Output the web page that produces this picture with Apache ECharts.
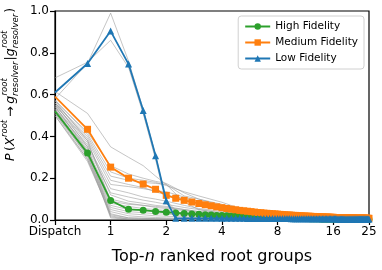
<!DOCTYPE html>
<html><head><meta charset="utf-8">
<script src="https://cdn.jsdelivr.net/npm/echarts@6/dist/echarts.min.js"></script>
<style>html,body{margin:0;padding:0;background:#fff}#c{width:382px;height:270px}</style>
</head><body><div id="c"></div>
<script>
const nValues = [0.5,0.75,1,1.25,1.5,1.75,2,2.25,2.5,2.75,3,3.25,3.5,3.75,4,4.25,4.5,4.75,5,5.25,5.5,5.75,6,6.25,6.5,6.75,7,7.25,7.5,7.75,8,8.25,8.5,8.75,9,9.25,9.5,9.75,10,10.25,10.5,10.75,11,11.25,11.5,11.75,12,12.25,12.5,12.75,13,13.25,13.5,13.75,14,14.25,14.5,14.75,15,15.25,15.5,15.75,16,16.25,16.5,16.75,17,17.25,17.5,17.75,18,18.25,18.5,18.75,19,19.25,19.5,19.75,20,20.25,20.5,20.75,21,21.25,21.5,21.75,22,22.25,22.5,22.75,23,23.25,23.5,23.75,24,24.25,24.5,24.75,25];
const highFidelity = [0.52,0.32,0.093,0.051,0.047,0.041,0.037,0.034,0.031,0.029,0.027,0.025,0.024,0.022,0.021,
 0.020,0.019,0.018,0.017,0.016,0.016,0.015,0.014,0.014,0.013,0.013,0.012,0.012,0.011,0.011,0.010,
 0.010,0.010,0.009,0.009,0.009,0.009,0.008,0.008,0.008,0.008,0.007,0.007,0.007,0.007,0.007,0.006,
 0.006,0.006,0.006,0.006,0.006,0.006,0.005,0.005,0.005,0.005,0.005,0.005,0.005,0.005,0.005,0.005,
 0.005,0.005,0.005,0.005,0.004,0.004,0.004,0.004,0.004,0.004,0.004,0.004,0.004,0.004,0.004,0.004,0.004,0.004,0.004,0.004,
 0.004,0.004,0.003,0.003,0.003,0.003,0.003,0.003,0.003,0.003,0.003,0.003,0.003,0.003,0.003,0.003];
const mediumFidelity = [0.59,0.434,0.253,0.20,0.172,0.147,0.118,0.104,0.094,0.086,0.079,0.073,0.068,0.063,0.059,
 0.055,0.052,0.049,0.046,0.044,0.042,0.040,0.038,0.036,0.035,0.033,0.032,0.031,0.030,0.029,0.028,
 0.027,0.026,0.025,0.024,0.024,0.023,0.022,0.022,0.021,0.020,0.020,0.019,0.019,0.018,0.018,0.018,
 0.017,0.017,0.016,0.016,0.016,0.015,0.015,0.015,0.014,0.014,0.014,0.014,0.013,0.013,0.013,0.013,
 0.012,0.012,0.012,0.012,0.012,0.011,0.011,0.011,0.011,0.011,0.011,0.010,0.010,0.010,0.010,0.010,0.010,0.010,0.010,0.010,
 0.009,0.009,0.009,0.009,0.009,0.009,0.009,0.009,0.009,0.009,0.009,0.009,0.008,0.008,0.008,0.008];
const lowFidelity = [0.61,0.749,0.904,0.746,0.524,0.307,0.092,0.008,0.008,0.008,0.008,0.008,0.008,0.008,0.008,
 0.008,0.008,0.008,0.008,0.008,0.007,0.007,0.007,0.007,0.007,0.007,0.007,0.007,0.007,0.007,0.007,
 0.007,0.007,0.007,0.007,0.007,0.006,0.006,0.006,0.006,0.006,0.006,0.006,0.006,0.006,0.006,0.006,
 0.006,0.006,0.006,0.006,0.006,0.006,0.006,0.006,0.006,0.006,0.006,0.006,0.006,0.006,0.006,0.006,
 0.006,0.006,0.006,0.005,0.005,0.005,0.005,0.005,0.005,0.005,0.005,0.005,0.005,0.005,0.005,0.005,0.005,0.005,0.005,0.005,
 0.005,0.005,0.005,0.005,0.005,0.005,0.005,0.005,0.005,0.005,0.005,0.005,0.005,0.005,0.005,0.005];

const grayN = [0.5,0.75,1,1.25,1.5,1.75,2,2.5,3,4,5,6,8,12,16,25];
const gray01 = [0.58,0.75,0.99,0.76,0.53,0.31,0.09,0.010,0.006,0.004,0.003,0.003,0.002,0.002,0.002,0.002];
const gray02 = [0.68,0.755,0.86,0.73,0.51,0.29,0.08,0.010,0.006,0.004,0.003,0.003,0.002,0.002,0.002,0.002];
const gray03 = [0.615,0.51,0.35,0.30,0.26,0.21,0.17,0.085,0.05,0.03,0.02,0.015,0.010,0.007,0.005,0.004];
const gray04 = [0.57,0.42,0.26,0.22,0.20,0.185,0.175,0.13,0.10,0.068,0.042,0.03,0.02,0.012,0.009,0.007];
const gray05 = [0.56,0.40,0.21,0.19,0.18,0.175,0.17,0.115,0.10,0.075,0.05,0.035,0.025,0.014,0.010,0.008];
const gray06 = [0.55,0.38,0.17,0.16,0.15,0.14,0.135,0.11,0.09,0.06,0.04,0.03,0.02,0.012,0.008,0.006];
const gray07 = [0.56,0.39,0.19,0.17,0.155,0.135,0.12,0.10,0.08,0.055,0.04,0.03,0.02,0.012,0.008,0.006];
const gray08 = [0.54,0.36,0.15,0.13,0.11,0.10,0.09,0.07,0.055,0.04,0.03,0.022,0.015,0.010,0.007,0.005];
const gray09 = [0.53,0.35,0.13,0.11,0.095,0.085,0.075,0.06,0.05,0.035,0.026,0.02,0.014,0.009,0.006,0.005];
const gray10 = [0.55,0.37,0.12,0.09,0.08,0.07,0.065,0.05,0.04,0.03,0.022,0.017,0.012,0.008,0.006,0.004];
const gray11 = [0.54,0.34,0.10,0.08,0.07,0.06,0.055,0.045,0.035,0.025,0.018,0.014,0.010,0.007,0.005,0.004];
const gray12 = [0.53,0.33,0.08,0.065,0.055,0.05,0.045,0.035,0.028,0.02,0.015,0.012,0.008,0.006,0.004,0.003];
const gray13 = [0.52,0.32,0.07,0.05,0.045,0.04,0.035,0.03,0.024,0.017,0.013,0.010,0.007,0.005,0.004,0.003];
const gray14 = [0.51,0.31,0.06,0.04,0.035,0.03,0.028,0.022,0.018,0.013,0.010,0.008,0.006,0.004,0.003,0.002];
const gray15 = [0.52,0.30,0.05,0.03,0.025,0.02,0.018,0.015,0.012,0.009,0.007,0.006,0.004,0.003,0.002,0.002];
const gray16 = [0.51,0.29,0.04,0.02,0.015,0.012,0.010,0.008,0.007,0.005,0.004,0.003,0.002,0.002,0.001,0.001];
const gray17 = [0.50,0.28,0.03,0.01,0.008,0.006,0.005,0.004,0.003,0.002,0.002,0.001,0.001,0.001,0.001,0.001];
const gray18 = [0.50,0.29,0.02,0.005,0.004,0.003,0.003,0.002,0.002,0.001,0.001,0.001,0.001,0.001,0.001,0.001];
const gray19 = [0.53,0.31,0.01,0.003,0.002,0.002,0.002,0.001,0.001,0.001,0.001,0.001,0.001,0.001,0.001,0.001];
const gray20 = [0.545,0.33,0.015,0.004,0.003,0.003,0.002,0.002,0.001,0.001,0.001,0.001,0.001,0.001,0.001,0.001];
const gray21 = [0.56,0.35,0.025,0.01,0.008,0.007,0.006,0.005,0.004,0.003,0.002,0.002,0.001,0.001,0.001,0.001];
const gray22 = [0.57,0.38,0.09,0.075,0.07,0.065,0.06,0.05,0.04,0.03,0.022,0.016,0.011,0.007,0.005,0.004];
const gray23 = [0.575,0.41,0.23,0.20,0.19,0.18,0.165,0.135,0.115,0.085,0.055,0.038,0.027,0.016,0.011,0.008];
const grayTraces = [gray01,gray02,gray03,gray04,gray05,gray06,gray07,gray08,gray09,gray10,gray11,gray12,gray13,gray14,gray15,gray16,gray17,gray18,gray19,gray20,gray21,gray22,gray23];

const seriesNames = ['High Fidelity','Medium Fidelity','Low Fidelity'];
const seriesColors = ['#2ca02c','#ff7f0e','#1f77b4'];
const seriesSymbols = ['circle','rect','triangle'];
const seriesValues = [highFidelity, mediumFidelity, lowFidelity];

const FAM = '"DejaVu Sans", sans-serif';
const chart = echarts.init(document.getElementById('c'), null, {renderer:'canvas'});

// y-axis title pieces (mathtext-like)
const mc = document.createElement('canvas').getContext('2d');
function tw(t, f){ mc.font = f; return mc.measureText(t).width; }
const fMain = 'italic 12.5px ' + FAM, fUp = '12.5px ' + FAM, fSc = 'italic 8.5px ' + FAM;
const titlePieces = [
  {t:'P', f:fMain}, {t:'\u2009(', f:fUp}, {t:'X', f:fMain}, {sup:'root'},
  {t:'\u2009\u2192\u2009', f:fUp}, {t:'g', f:fMain}, {sup:'root', sub:'resolver'},
  {t:'|', f:fUp}, {t:'g', f:fMain}, {sup:'root', sub:'resolver'}, {t:')', f:fUp}
];
const titleChildren = [];
let cx = 0;
titlePieces.forEach(p => {
  if (p.t !== undefined) {
    titleChildren.push({type:'text', x:cx, y:0, style:{text:p.t, font:p.f, fill:'#000', align:'left', verticalAlign:'middle'}});
    cx += tw(p.t, p.f);
  } else {
    let wmax = 0;
    if (p.sup) { titleChildren.push({type:'text', x:cx+0.5, y:-6, style:{text:p.sup, font:fSc, fill:'#000', align:'left', verticalAlign:'middle'}}); wmax = Math.max(wmax, tw(p.sup, fSc)); }
    if (p.sub) { titleChildren.push({type:'text', x:cx, y:4.5, style:{text:p.sub, font:fSc, fill:'#000', align:'left', verticalAlign:'middle'}}); wmax = Math.max(wmax, tw(p.sub, fSc)); }
    cx += wmax + 1;
  }
});

const series = [];
grayTraces.forEach((arr, k) => {
  series.push({type:'line', name:'gray'+k, data: grayN.map((x,i)=>[x, arr[i]]), symbol:'none', silent:true, z:1,
    lineStyle:{color:'rgba(150,150,150,0.55)', width:1}});
});
seriesNames.forEach((nm, s) => {
  series.push({type:'line', name:nm, z:3+s, showAllSymbol:true,
    data: nValues.map((x,i)=> i===0 ? {value:[x, seriesValues[s][i]], symbol:'none'} : [x, seriesValues[s][i]]),
    symbol: seriesSymbols[s], symbolSize: 7,
    itemStyle:{color: seriesColors[s]}, lineStyle:{color: seriesColors[s], width:1.8}});
});

chart.setOption({
  animation:false,
  grid:{left:55, right:13, top:11, bottom:44, show:true, borderColor:'#000', borderWidth:1.2, backgroundColor:'transparent'},
  xAxis:{type:'log', logBase:2, min:0.5, max:25,
    name:'{a|Top-}{b|n}{a| ranked root groups}', nameLocation:'middle', nameGap:29,
    nameTextStyle:{rich:{a:{fontSize:16, fontFamily:FAM, color:'#000'}, b:{fontSize:16, fontFamily:FAM, fontStyle:'italic', color:'#000'}}},
    axisLine:{lineStyle:{color:'#000', width:1.2}},
    axisTick:{show:true, inside:false, length:5, lineStyle:{color:'#000', width:1.2}},
    minorTick:{show:false}, splitLine:{show:false}, minorSplitLine:{show:false},
    axisLabel:{fontSize:12, fontFamily:FAM, color:'#000', margin:6, showMinLabel:true, showMaxLabel:true,
      formatter: v => (Math.abs(v-0.5)<1e-6 ? 'Dispatch' : String(Math.round(v)))}},
  yAxis:{type:'value', min:0, max:1, interval:0.2,
    axisLine:{show:true, lineStyle:{color:'#000', width:1.2}},
    axisTick:{show:true, length:5, lineStyle:{color:'#000', width:1.2}},
    splitLine:{show:false},
    axisLabel:{fontSize:12, fontFamily:FAM, color:'#000', margin:6, formatter: v => v.toFixed(1)}},
  legend:{data:seriesNames, orient:'vertical', right:18, top:16, itemWidth:25, itemHeight:8, itemGap:5,
    padding:[5,6,5,6], borderColor:'#d0d0d0', borderWidth:1, borderRadius:3, backgroundColor:'rgba(255,255,255,0.85)',
    textStyle:{fontSize:10.5, fontFamily:FAM, color:'#000'}},
  graphic:[{type:'group', rotation:Math.PI/2, x:11, y:161, children:titleChildren}],
  series
});
</script></body></html>
